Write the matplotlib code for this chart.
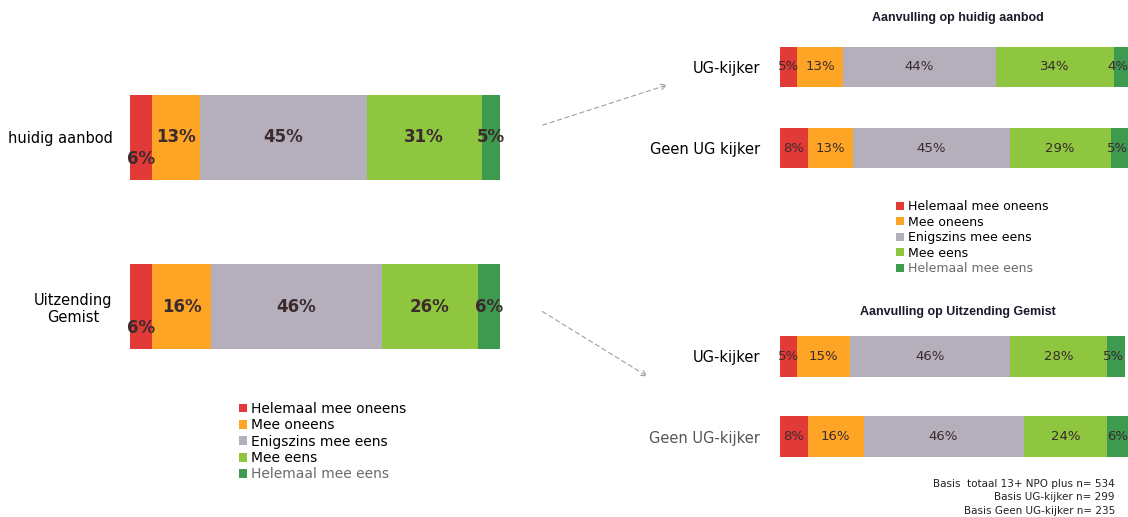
import matplotlib.pyplot as plt
from matplotlib.patches import Patch

plt.rcParams['font.family'] = ['Liberation Sans', 'DejaVu Sans']

categories = ['Helemaal mee oneens', 'Mee oneens', 'Enigszins mee eens',
              'Mee eens', 'Helemaal mee eens']
colors = ['#e23a36', '#ffa526', '#b5aebb', '#8ec640', '#3d9a4e']

# linker grafiek: totaal
left_rows = ['huidig aanbod', 'Uitzending\nGemist']
left_vals = [[6, 13, 45, 31, 5],
             [6, 16, 46, 26, 6]]

# rechts boven: aanvulling op huidig aanbod
top_title = 'Aanvulling op huidig aanbod'
top_rows = ['UG-kijker', 'Geen UG kijker']
top_vals = [[5, 13, 44, 34, 4],
            [8, 13, 45, 29, 5]]

# rechts onder: aanvulling op Uitzending Gemist
bot_title = 'Aanvulling op Uitzending Gemist'
bot_rows = ['UG-kijker', 'Geen UG-kijker']
bot_vals = [[5, 15, 46, 28, 5],
            [8, 16, 46, 24, 6]]

notes = ['Basis  totaal 13+ NPO plus n= 534',
         'Basis UG-kijker n= 299',
         'Basis Geen UG-kijker n= 235']

W, H = 1128, 517
fig = plt.figure(figsize=(W / 100, H / 100), dpi=100)


def px_axes(x0, x1, y0, y1):
    return fig.add_axes([x0 / W, 1 - y1 / H, (x1 - x0) / W, (y1 - y0) / H])


def stacked(ax, rows, vals, height, fs, bold, pad, first_low=False,
            label_colors=None, last_right=False):
    for r, row in enumerate(vals):
        left = 0
        for i, v in enumerate(row):
            ax.barh(r, v, left=left, height=height, color=colors[i], linewidth=0)
            dy = 0.13 if (first_low and i == 0) else 0
            x, ha = left + v / 2, 'center'
            if last_right and i == len(row) - 1:
                x, ha = left + v, 'right'
            ax.text(x, r + dy, f'{v}%', ha=ha, va='center',
                    fontsize=fs, fontweight='bold' if bold else 'normal',
                    color='#3b2b2e', clip_on=False, family='DejaVu Sans')
            left += v
    ax.set_xlim(0, 100)
    ax.set_ylim(1.5, -0.5)
    ax.set_yticks(range(len(rows)))
    ax.set_yticklabels(rows, fontsize=10.5, family='DejaVu Sans')
    for j, t in enumerate(ax.get_yticklabels()):
        t.set_multialignment('center')
        if label_colors:
            t.set_color(label_colors[j])
    ax.tick_params(left=False, bottom=False, labelbottom=False, pad=pad)
    for s in ax.spines.values():
        s.set_visible(False)
    ax.patch.set_alpha(0)


ax_l = px_axes(130, 500, 53, 391)
stacked(ax_l, left_rows, left_vals, 0.503, 12, True, 9, first_low=True)

ax_t = px_axes(780, 1128, 26.5, 188.5)
stacked(ax_t, top_rows, top_vals, 0.494, 9.5, False, 11, last_right=True)

ax_b = px_axes(780, 1128, 316, 477)
stacked(ax_b, bot_rows, bot_vals, 0.51, 9.5, False, 11,
        label_colors=['black', '#555555'], last_right=True)

handles = [Patch(facecolor=c, edgecolor='none') for c in colors]

leg1 = fig.legend(handles, categories, loc='upper left', bbox_to_anchor=(232 / W, 1 - 395 / H),
                  frameon=False, fontsize=10, handlelength=0.6, handleheight=0.6,
                  handletextpad=0.3, labelspacing=0.17, borderpad=0)
leg2 = fig.legend(handles, categories, loc='upper left', bbox_to_anchor=(890 / W, 1 - 194 / H),
                  frameon=False, fontsize=9, handlelength=0.6, handleheight=0.6,
                  handletextpad=0.3, labelspacing=0.2, borderpad=0)
for leg in (leg1, leg2):
    leg.get_texts()[-1].set_color('#6a6a6a')
    for t in leg.get_texts():
        t.set_family('DejaVu Sans')

# overlay for titles, arrows and footnote
ov = fig.add_axes([0, 0, 1, 1])
ov.set_xlim(0, W)
ov.set_ylim(H, 0)
ov.axis('off')
ov.patch.set_alpha(0)
ov.text(958, 18, top_title, ha='center', va='center', fontsize=9,
        fontweight='bold', color='#1a1a2a')
ov.text(958, 312, bot_title, ha='center', va='center', fontsize=9,
        fontweight='bold', color='#1a1a2a')
arrow = dict(arrowstyle='->', color='#a0a0a0', lw=0.8, linestyle=(0, (4, 3)))
ov.annotate('', xy=(670, 84), xytext=(540, 126), arrowprops=arrow)
ov.annotate('', xy=(650, 378), xytext=(540, 310), arrowprops=arrow)
for k, n in enumerate(notes):
    ov.text(1115, 484 + k * 13.5, n, ha='right', va='center', fontsize=7.5,
            color='#222222', family='DejaVu Sans')

fig.savefig('out.png', dpi=100)
